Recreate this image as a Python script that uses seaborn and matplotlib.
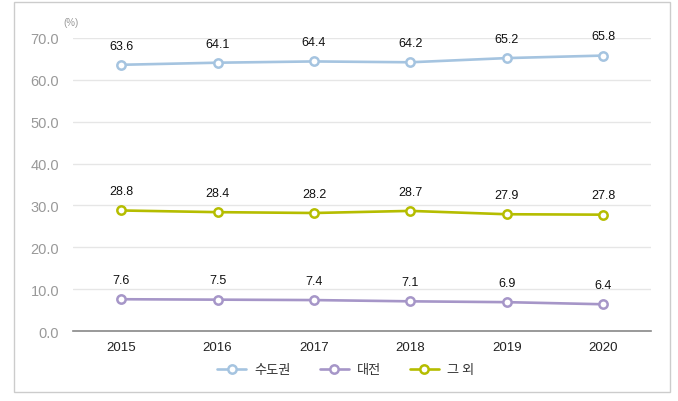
import matplotlib
matplotlib.use("Agg")
import matplotlib.pyplot as plt
import seaborn as sns
import pandas as pd
from matplotlib.patches import Rectangle

years = ["2015", "2016", "2017", "2018", "2019", "2020"]
capital = [63.6, 64.1, 64.4, 64.2, 65.2, 65.8]
daejeon = [7.6, 7.5, 7.4, 7.1, 6.9, 6.4]
others = [28.8, 28.4, 28.2, 28.7, 27.9, 27.8]
series_names = ["수도권", "대전", "그 외"]
colors = ["#a5c4e0", "#a696c8", "#b5bd00"]
yticks = [0, 10, 20, 30, 40, 50, 60, 70]

rows = []
for name, vals in zip(series_names, [capital, daejeon, others]):
    for yr, v in zip(years, vals):
        rows.append([yr, name, v])
df = pd.DataFrame(rows, columns=["year", "region", "value"])

sns.set_style("white")
plt.rcParams["font.family"] = ["Liberation Sans", "Noto Sans CJK KR", "DejaVu Sans"]

fig = plt.figure(figsize=(6.78, 4.02), dpi=100)
ax = fig.add_axes([0.1077, 0.174, 0.853, 0.729])

sns.lineplot(ax=ax, data=df, x="year", y="value", hue="region",
             palette=dict(zip(series_names, colors)), hue_order=series_names,
             marker="o", markersize=6, markerfacecolor="white", markeredgewidth=1.8,
             linewidth=1.9, legend=False, sort=False)
# seaborn sets marker edge color to white by default; restore to line colour
for line in ax.lines:
    line.set_markeredgecolor(line.get_color())

for name, vals in zip(series_names, [capital, daejeon, others]):
    for i, v in enumerate(vals):
        ax.annotate(f"{v:.1f}", (i, v), xytext=(0, 9.5), textcoords="offset points",
                    ha="center", va="bottom", fontsize=9, color="#111111")

ax.set_xlim(-0.5, 5.5)
ax.set_ylim(0, 70)
ax.set_yticks(yticks)
ax.set_yticklabels([f"{t:.1f}" for t in yticks], color="#999999", fontsize=10.5)
ax.set_xticks(range(len(years)))
ax.set_xticklabels(years, fontsize=9.5, color="#222222")
ax.set_xticks([i - 0.5 for i in range(len(years) + 1)], minor=True)
ax.tick_params(axis="x", which="major", length=0, pad=7)
ax.tick_params(axis="x", which="minor", length=3, color="#888888", width=1, direction="out")
ax.tick_params(axis="y", length=0, pad=10)
ax.set_xlabel("")
ax.set_ylabel("")
ax.grid(axis="y", color="#e6e6e6", linewidth=1)
ax.set_axisbelow(True)
for s in ["top", "right", "left"]:
    ax.spines[s].set_visible(False)
ax.spines["bottom"].set_color("#888888")
ax.spines["bottom"].set_linewidth(1.2)

fig.text(0.105, 0.935, "(%)", fontsize=7, color="#999999", ha="center")

handles = [plt.Line2D([], [], color=c, marker="o", markersize=6, markerfacecolor="white",
                      markeredgewidth=1.8, linewidth=1.9) for c in colors]
fig.legend(handles, series_names, loc="center", bbox_to_anchor=(0.51, 0.078), ncol=3,
           frameon=False, handlelength=2.2, columnspacing=2.2, handletextpad=0.6,
           prop={"family": ["Noto Sans CJK KR"], "size": 9.5}, labelcolor="#333333")

fig.patches.append(Rectangle((14 / 678, 1 - 393 / 402), 656 / 678, 390 / 402,
                             transform=fig.transFigure, fill=False,
                             edgecolor="#cccccc", linewidth=1))

fig.savefig("out.png", dpi=100, facecolor="white")
